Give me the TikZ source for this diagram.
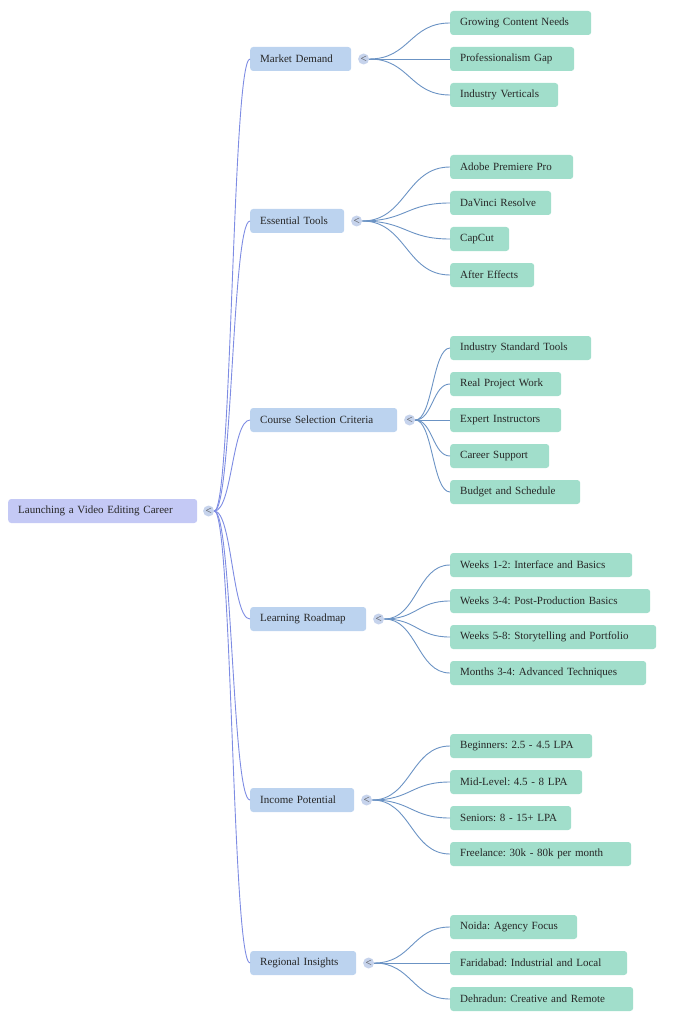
\documentclass[tikz,border=0pt]{standalone}
\usepackage{fontspec}
\setmainfont{Liberation Serif}
\usepackage{tikz}
\usetikzlibrary{calc}
\usetikzlibrary{positioning}
\frenchspacing
\definecolor{rootfill}{HTML}{C4C9F5}
\definecolor{branchfill}{HTML}{BCD3EF}
\definecolor{leaffill}{HTML}{A1DECB}
\definecolor{rootline}{HTML}{7E8CE3}
\definecolor{leafline}{HTML}{6B93C4}
\definecolor{dotfill}{HTML}{C6D3EC}
\tikzset{box/.style={rounded corners=3pt, minimum height=24pt, inner xsep=10pt, inner ysep=2pt, align=left, text=black!85, font=\fontsize{11}{13}\selectfont}}
\tikzset{wd/.style={text width=#1pt}}
\tikzset{rootnode/.style={box, fill=rootfill, anchor=west}}
\tikzset{branchnode/.style={box, fill=branchfill, anchor=west}}
\tikzset{leafnode/.style={box, fill=leaffill, anchor=west}}
\tikzset{dot/.style={circle, fill=dotfill, minimum size=11pt, inner sep=0pt, text=black!70, font=\fontsize{11}{11}\selectfont}}
\tikzset{curve/.style={to path={let \p1=(\tikztostart), \p2=(\tikztotarget) in
    .. controls ({(\x1+\x2)/2},\y1) and ({(\x1+\x2)/2},\y2) .. (\tikztotarget)}}}
\tikzset{rootedge/.style={curve, draw=rootline, line width=0.9pt}}
\tikzset{leafedge/.style={curve, draw=leafline, line width=0.9pt}}

\begin{document}
\begin{tikzpicture}[x=1pt, y=-1pt]
\useasboundingbox (0,0) rectangle (683,1024);

% root
\node (r) [rootnode, wd=169] at (8, 511) {Launching a Video Editing Career};
\node (rc) [dot, right=5.5pt of r] {<};

% branches
\node (m) [branchnode, wd=81] at (250, 59) {Market Demand};
\node (mc) [dot, right=6.5pt of m] {<};
\node (t) [branchnode, wd=74] at (250, 221) {Essential Tools};
\node (tc) [dot, right=6.5pt of t] {<};
\node (c) [branchnode, wd=127] at (250, 420) {Course Selection Criteria};
\node (cc) [dot, right=6.5pt of c] {<};
\node (l) [branchnode, wd=96] at (250, 619) {Learning Roadmap};
\node (lc) [dot, right=6.5pt of l] {<};
\node (i) [branchnode, wd=84] at (250, 800) {Income Potential};
\node (ic) [dot, right=6.5pt of i] {<};
\node (g) [branchnode, wd=86] at (250, 963) {Regional Insights};
\node (gc) [dot, right=6.5pt of g] {<};

% leaves
\node (m1) [leafnode, wd=121] at (450, 23) {Growing Content Needs};
\node (m2) [leafnode, wd=104] at (450, 59) {Professionalism Gap};
\node (m3) [leafnode, wd=88] at (450, 95) {Industry Verticals};

\node (t1) [leafnode, wd=103] at (450, 167) {Adobe Premiere Pro};
\node (t2) [leafnode, wd=81] at (450, 203) {DaVinci Resolve};
\node (t3) [leafnode, wd=39] at (450, 239) {CapCut};
\node (t4) [leafnode, wd=64] at (450, 275) {After Effects};

\node (c1) [leafnode, wd=121] at (450, 348) {Industry Standard Tools};
\node (c2) [leafnode, wd=91] at (450, 384) {Real Project Work};
\node (c3) [leafnode, wd=91] at (450, 420) {Expert Instructors};
\node (c4) [leafnode, wd=79] at (450, 456) {Career Support};
\node (c5) [leafnode, wd=110] at (450, 492) {Budget and Schedule};

\node (l1) [leafnode, wd=162] at (450, 565) {Weeks 1-2: Interface and Basics};
\node (l2) [leafnode, wd=180] at (450, 601) {Weeks 3-4: Post-Production Basics};
\node (l3) [leafnode, wd=186] at (450, 637) {Weeks 5-8: Storytelling and Portfolio};
\node (l4) [leafnode, wd=176] at (450, 673) {Months 3-4: Advanced Techniques};

\node (i1) [leafnode, wd=122] at (450, 746) {Beginners: 2.5 - 4.5 LPA};
\node (i2) [leafnode, wd=112] at (450, 782) {Mid-Level: 4.5 - 8 LPA};
\node (i3) [leafnode, wd=101] at (450, 818) {Seniors: 8 - 15+ LPA};
\node (i4) [leafnode, wd=161] at (450, 854) {Freelance: 30k - 80k per month};

\node (g1) [leafnode, wd=107] at (450, 927) {Noida: Agency Focus};
\node (g2) [leafnode, wd=157] at (450, 963) {Faridabad: Industrial and Local};
\node (g3) [leafnode, wd=163] at (450, 999) {Dehradun: Creative and Remote};

% root to branches
\draw[rootedge] (rc.east) to (m.west);
\draw[rootedge] (rc.east) to (t.west);
\draw[rootedge] (rc.east) to (c.west);
\draw[rootedge] (rc.east) to (l.west);
\draw[rootedge] (rc.east) to (i.west);
\draw[rootedge] (rc.east) to (g.west);

% branches to leaves
\draw[leafedge] (mc.east) to (m1.west);
\draw[leafedge] (mc.east) to (m2.west);
\draw[leafedge] (mc.east) to (m3.west);
\draw[leafedge] (tc.east) to (t1.west);
\draw[leafedge] (tc.east) to (t2.west);
\draw[leafedge] (tc.east) to (t3.west);
\draw[leafedge] (tc.east) to (t4.west);
\draw[leafedge] (cc.east) to (c1.west);
\draw[leafedge] (cc.east) to (c2.west);
\draw[leafedge] (cc.east) to (c3.west);
\draw[leafedge] (cc.east) to (c4.west);
\draw[leafedge] (cc.east) to (c5.west);
\draw[leafedge] (lc.east) to (l1.west);
\draw[leafedge] (lc.east) to (l2.west);
\draw[leafedge] (lc.east) to (l3.west);
\draw[leafedge] (lc.east) to (l4.west);
\draw[leafedge] (ic.east) to (i1.west);
\draw[leafedge] (ic.east) to (i2.west);
\draw[leafedge] (ic.east) to (i3.west);
\draw[leafedge] (ic.east) to (i4.west);
\draw[leafedge] (gc.east) to (g1.west);
\draw[leafedge] (gc.east) to (g2.west);
\draw[leafedge] (gc.east) to (g3.west);
\end{tikzpicture}
\end{document}
